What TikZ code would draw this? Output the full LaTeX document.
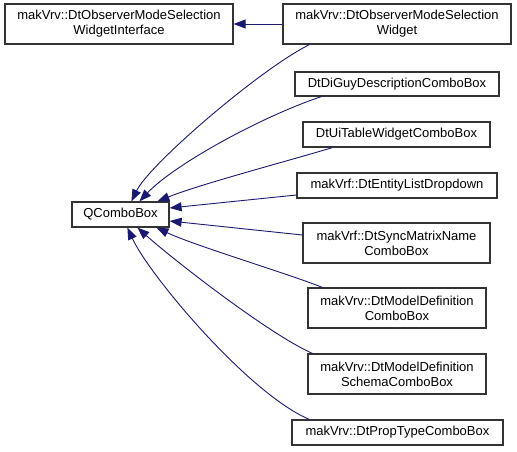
\documentclass[tikz,border=0pt]{standalone}
\usepackage{fontspec}
\setmainfont{Liberation Sans}
\usetikzlibrary{arrows.meta}
\definecolor{edgeblue}{RGB}{25,25,112}

\begin{document}
\begin{tikzpicture}[x=1pt, y=-1pt,
  cls/.style={draw=black!80, line width=1.2pt, fill=white, inner sep=0pt, align=center, font=\fontsize{13}{15}\selectfont},
  inh/.style={draw=edgeblue, line width=0.9pt, -{Triangle[length=12pt,width=9pt]}}]

\useasboundingbox (0,0) rectangle (517,452);

% ---- base classes
\node[cls, minimum width=228, minimum height=40] (iface) at (119,24) {makVrv::DtObserverModeSelection\\WidgetInterface};
\node[cls, minimum width=97, minimum height=25] (qcb) at (120.5,214.5) {QComboBox};

% ---- derived classes
\node[cls, minimum width=228, minimum height=40] (widget) at (397,24) {makVrv::DtObserverModeSelection\\Widget};
\node[cls, minimum width=204, minimum height=24] (diguy) at (397,84) {DtDiGuyDescriptionComboBox};
\node[cls, minimum width=187, minimum height=25] (uitable) at (396.5,134.5) {DtUiTableWidgetComboBox};
\node[cls, minimum width=200, minimum height=25] (entity) at (397,185.5) {makVrf::DtEntityListDropdown};
\node[cls, minimum width=187, minimum height=40] (sync) at (396.5,243) {makVrf::DtSyncMatrixName\\ComboBox};
\node[cls, minimum width=178, minimum height=40] (modeldef) at (397,308) {makVrv::DtModelDefinition\\ComboBox};
\node[cls, minimum width=178, minimum height=40] (schema) at (397,374) {makVrv::DtModelDefinition\\SchemaComboBox};
\node[cls, minimum width=211, minimum height=25] (proptype) at (397.5,432.5) {makVrv::DtPropTypeComboBox};

% ---- inheritance
\draw[inh] (widget) -- (iface);
\draw[inh] ([xshift=27pt]widget.south west) .. controls +(-50,25) and +(18,-37) .. ([xshift=60pt]qcb.north west);
\draw[inh] ([xshift=27pt]diguy.south west) .. controls +(-60,20) and +(35,-37) .. ([xshift=68pt]qcb.north west);
\draw[inh] ([xshift=30pt]uitable.south west) .. controls +(-43,13) and +(42,-17) .. ([xshift=86pt]qcb.north west);
\draw[inh] ([yshift=-9.5pt]entity.west) -- ([yshift=6.5pt]qcb.east);
\draw[inh] ([yshift=8pt]sync.west) -- ([yshift=-6.5pt]qcb.east);
\draw[inh] ([xshift=15pt]modeldef.north west) .. controls +(-38,-15) and +(38,18) .. ([xshift=85pt]qcb.south west);
\draw[inh] ([xshift=5pt]schema.north west) .. controls +(-43,-19) and +(37,33) .. ([xshift=66pt]qcb.south west);
\draw[inh] ([xshift=18pt]proptype.north west) .. controls +(-60,-25) and +(22,48) .. ([xshift=56pt]qcb.south west);
\end{tikzpicture}
\end{document}
